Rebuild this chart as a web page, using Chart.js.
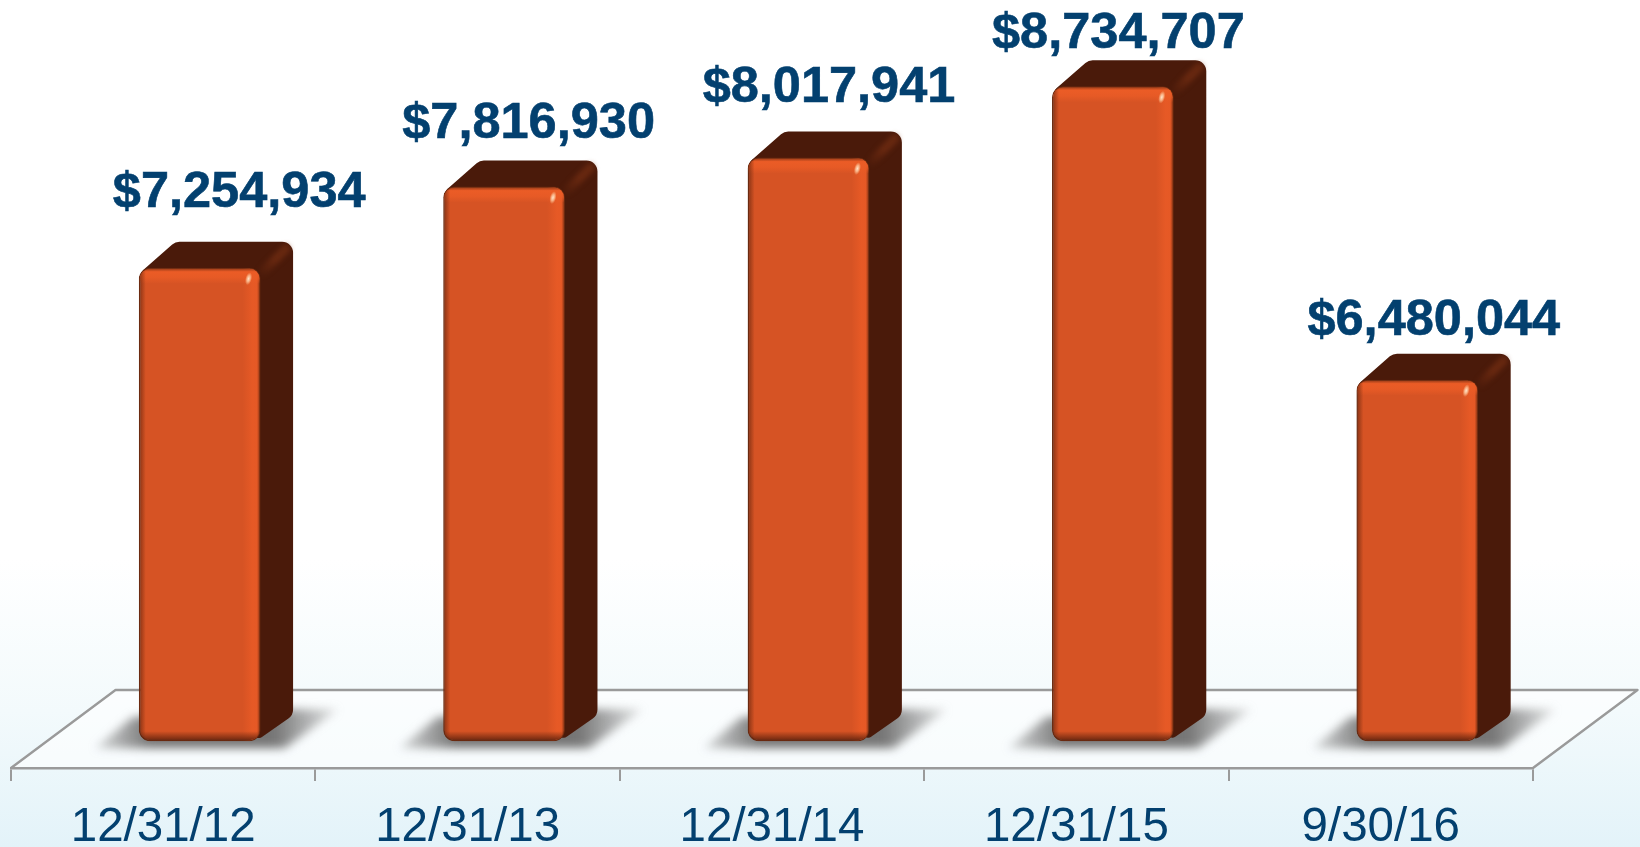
<!DOCTYPE html>
<html>
<head>
<meta charset="utf-8">
<script src="https://cdn.jsdelivr.net/npm/chart.js@4"></script>
<style>
html,body{margin:0;padding:0;width:1640px;height:847px;overflow:hidden;
background:linear-gradient(to bottom,#ffffff 0%,#ffffff 66%,#f3fafc 84%,#e3f3f9 100%);}
canvas{display:block;}
</style>
</head>
<body>
<canvas id="c" width="1640" height="847"></canvas>
<script>
const categories = ['12/31/12','12/31/13','12/31/14','12/31/15','9/30/16'];
const values = [7254934,7816930,8017941,8734707,6480044];
const valueLabels = ['$7,254,934','$7,816,930','$8,017,941','$8,734,707','$6,480,044'];

// The reference's bars are not proportional above about 8.0M: its axis is compressed there.
class CompressedScale extends Chart.LinearScale {
  static id = 'compressed';
  static defaults = Chart.LinearScale.defaults;
  warp(v){
    const k = this.options.knee, r = this.options.ratio;
    return v <= k ? v : k + (v - k) * r;
  }
  getPixelForValue(v){
    if (v === null || isNaN(v)) return NaN;
    return this.getPixelForDecimal((this.warp(v) - this.warp(this.min)) / (this.warp(this.max) - this.warp(this.min)));
  }
  getValueForPixel(p){
    const k = this.options.knee, r = this.options.ratio;
    const t = this.warp(this.min) + this.getDecimalForPixel(p) * (this.warp(this.max) - this.warp(this.min));
    return t <= k ? t : k + (t - k) / r;
  }
}
Chart.register(CompressedScale);

const BAR_SHIFT = 36.5, DEPTH_X = 32.5, DEPTH_Y = 26, RAD = 11;
const labelDx = [76, 61, 57, 42, 53];
const labelGap = [35, 23, 30, 12, 19];

function roundedPoly(ctx, pts, r){
  const n = pts.length;
  const s = [(pts[0][0]+pts[n-1][0])/2, (pts[0][1]+pts[n-1][1])/2];
  ctx.beginPath();
  ctx.moveTo(s[0], s[1]);
  for (let i = 0; i < n; i++){
    const a = pts[i], b = pts[(i+1)%n];
    const rr = a[2] === undefined ? r : a[2];
    ctx.arcTo(a[0], a[1], b[0], b[1], rr);
  }
  ctx.closePath();
}

const scene = {
  id: 'scene',
  beforeDraw(chart){
    const {ctx, chartArea:a} = chart;
    const yFront = a.bottom, yBack = 690, dx = 104.5;
    ctx.save();
    ctx.beginPath();
    ctx.moveTo(a.left, yFront);
    ctx.lineTo(a.left + dx, yBack);
    ctx.lineTo(a.right + dx, yBack);
    ctx.lineTo(a.right, yFront);
    ctx.closePath();
    ctx.fillStyle = 'rgba(255,255,255,0.6)';
    ctx.fill();
    ctx.strokeStyle = '#9a9a9a';
    ctx.lineWidth = 2.4;
    ctx.lineJoin = 'round';
    ctx.beginPath();
    ctx.moveTo(a.left, yFront);
    ctx.lineTo(a.left + dx, yBack);
    ctx.lineTo(a.right + dx, yBack);
    ctx.lineTo(a.right, yFront);
    ctx.stroke();
    ctx.restore();
  },
  beforeDatasetsDraw(chart){
    const {ctx} = chart;
    chart.getDatasetMeta(0).data.forEach(b => {
      const L = b.x - b.width/2 + BAR_SHIFT, R = b.x + b.width/2 + BAR_SHIFT, B = b.base, T = b.y;
      // ground shadow, soft and fading towards both tips
      ctx.save();
      ctx.filter = 'blur(5px)';
      const g = ctx.createLinearGradient(L - 44, 0, R + 84, 0);
      g.addColorStop(0, 'rgba(120,120,120,0.25)');
      g.addColorStop(0.22, 'rgba(118,118,118,1)');
      g.addColorStop(0.72, 'rgba(118,118,118,1)');
      g.addColorStop(1, 'rgba(130,130,130,0.1)');
      ctx.fillStyle = g;
      ctx.beginPath();
      ctx.moveTo(L - 44, B + 7);
      ctx.lineTo(R + 24, B + 7);
      ctx.lineTo(R + 78, B - 32);
      ctx.lineTo(R - 20, B - 32);
      ctx.lineTo(L - 6, B - 24);
      ctx.closePath();
      ctx.fill();
      ctx.restore();
      // top and side faces
      ctx.save();
      const X = R + DEPTH_X, Y = T - DEPTH_Y;
      roundedPoly(ctx, [[L, T+6, 6],[L+DEPTH_X+4, Y],[X, Y],[X, B-DEPTH_Y],[R-6, B+1, 6],[L+20, T+30, 0]], RAD);
      ctx.fillStyle = '#4a1a0a';
      ctx.fill();
      // soft lighter diagonal edge from the front corner to the back corner
      ctx.filter = 'blur(2.5px)';
      const e = ctx.createLinearGradient(R-2, T+8, X-2, Y);
      e.addColorStop(0, 'rgba(125,50,20,0)');
      e.addColorStop(0.5, 'rgba(125,50,20,0.6)');
      e.addColorStop(1, 'rgba(125,50,20,0.55)');
      ctx.strokeStyle = e;
      ctx.lineWidth = 9;
      ctx.lineCap = 'round';
      ctx.beginPath();
      ctx.moveTo(R+2, T+4);
      ctx.lineTo(X-7, Y+7);
      ctx.stroke();
      ctx.restore();
    });
  },
  beforeDatasetDraw(chart){
    chart.ctx.save();
    chart.ctx.translate(BAR_SHIFT, 0);
  },
  afterDatasetDraw(chart){
    const {ctx} = chart;
    ctx.restore();
    chart.getDatasetMeta(0).data.forEach(b => {
      const L = b.x - b.width/2 + BAR_SHIFT, R = b.x + b.width/2 + BAR_SHIFT, B = b.base, T = b.y;
      ctx.save();
      ctx.beginPath();
      ctx.roundRect(L+1, T+1, R-L-2, B-T-2, RAD-1);
      ctx.clip();
      // bright bevel strips along the top and right edges
      let g = ctx.createLinearGradient(R-18, 0, R, 0);
      g.addColorStop(0, 'rgba(232,90,38,0)');
      g.addColorStop(0.55, 'rgba(232,90,38,0.9)');
      g.addColorStop(0.8, 'rgba(232,90,38,0.85)');
      g.addColorStop(1, 'rgba(110,42,16,0.95)');
      ctx.fillStyle = g;
      ctx.fillRect(R-18, T, 18, B-T);
      g = ctx.createLinearGradient(0, T, 0, T+16);
      g.addColorStop(0, 'rgba(130,50,20,0.85)');
      g.addColorStop(0.25, 'rgba(235,92,38,1)');
      g.addColorStop(0.6, 'rgba(235,92,38,0.8)');
      g.addColorStop(1, 'rgba(235,92,38,0)');
      ctx.fillStyle = g;
      ctx.fillRect(L, T, R-L, 16);
      // bottom and left edge shading
      g = ctx.createLinearGradient(0, B-10, 0, B);
      g.addColorStop(0, 'rgba(100,36,14,0)');
      g.addColorStop(1, 'rgba(100,36,14,1)');
      ctx.fillStyle = g;
      ctx.fillRect(L, B-10, R-L, 10);
      g = ctx.createLinearGradient(L, 0, L+7, 0);
      g.addColorStop(0, 'rgba(110,40,15,0.8)');
      g.addColorStop(1, 'rgba(110,40,15,0)');
      ctx.fillStyle = g;
      ctx.fillRect(L, T, 7, B-T);
      // specular glint: a small tilted streak
      ctx.translate(R-12, T+11);
      ctx.rotate(0.25);
      ctx.scale(0.5, 1);
      g = ctx.createRadialGradient(0, 0, 0, 0, 0, 6.5);
      g.addColorStop(0, 'rgba(255,232,205,1)');
      g.addColorStop(0.5, 'rgba(255,210,170,0.7)');
      g.addColorStop(1, 'rgba(255,200,150,0)');
      ctx.fillStyle = g;
      ctx.fillRect(-8, -8, 16, 16);
      ctx.restore();
    });
  },
  afterDatasetsDraw(chart){
    const {ctx} = chart;
    ctx.save();
    ctx.font = 'bold 50.5px "Liberation Sans", Arial, sans-serif';
    ctx.fillStyle = '#03406f';
    ctx.strokeStyle = '#03406f';
    ctx.lineWidth = 0.6;
    ctx.textAlign = 'center';
    ctx.textBaseline = 'alphabetic';
    chart.getDatasetMeta(0).data.forEach((b, i) => {
      ctx.fillText(valueLabels[i], b.x + labelDx[i], b.y - DEPTH_Y - labelGap[i]);
      ctx.strokeText(valueLabels[i], b.x + labelDx[i], b.y - DEPTH_Y - labelGap[i]);
    });
    ctx.restore();
  }
};

new Chart(document.getElementById('c'), {
  type: 'bar',
  data: {
    labels: categories,
    datasets: [{
      data: values,
      base: 3976000,
      backgroundColor: '#d65324',
      borderColor: '#6a2a10',
      borderWidth: 1.5,
      borderRadius: RAD,
      borderSkipped: false,
      barPercentage: 0.4,
      categoryPercentage: 1,
      clip: false
    }]
  },
  options: {
    responsive: false,
    animation: false,
    layout: {padding: {left: 11, right: 107, top: 0, bottom: 0}},
    plugins: {legend: {display: false}, tooltip: {enabled: false}, title: {display: false}},
    scales: {
      x: {
        type: 'category',
        offset: true,
        afterFit(s){ s.height = 79; },
        border: {display: true, color: '#9a9a9a', width: 2.5},
        grid: {display: true, drawOnChartArea: false, drawTicks: true, tickLength: 13, color: '#9a9a9a', lineWidth: 2},
        ticks: {
          color: '#03406f',
          font: {family: '"Liberation Sans", Arial, sans-serif', size: 47.5},
          padding: 18,
          maxRotation: 0,
          minRotation: 0,
          autoSkip: false
        }
      },
      y: {
        type: 'compressed',
        display: false,
        min: 3790000,
        max: 9600000,
        knee: 8017941,
        ratio: 0.69
      }
    }
  },
  plugins: [scene]
});
</script>
</body>
</html>
